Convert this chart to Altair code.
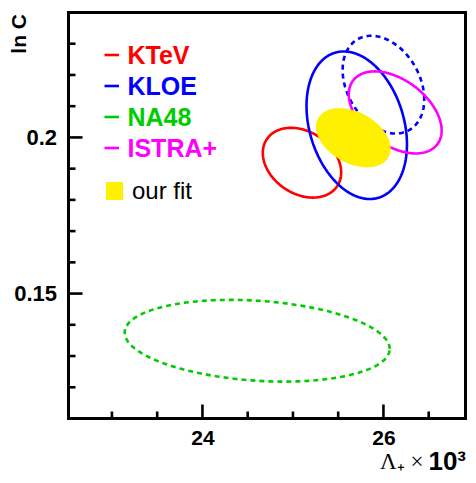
import altair as alt
import pandas as pd

# ---------------- data ----------------
# contour ellipses: centre, half-extent in x and y, correlation
ell_names = ["KTeV", "KLOE", "KLOE (dashed)", "NA48", "ISTRA+"]
ell_cx = [25.10, 25.705, 26.00, 24.605, 26.13]
ell_cy = [0.1919, 0.2039, 0.2169, 0.1349, 0.2080]
ell_sx = [0.433, 0.555, 0.451, 1.464, 0.513]
ell_sy = [0.01117, 0.02363, 0.01565, 0.01309, 0.01314]
ell_rho = [-0.28, -0.26, -0.30, -0.20, -0.44]
ell_style = ["solid", "solid", "dashed", "dashed", "solid"]
ell_colors = ["#ff0000", "#0000ff", "#0000ff", "#00cc00", "#ff00ff"]

fit_name = ["our fit"]
fit_cx = [25.667]
fit_cy = [0.1999]
fit_sx = [0.412]
fit_sy = [0.00948]
fit_rho = [-0.37]
fit_color = "#fff000"

legend_names = ["KTeV", "KLOE", "NA48", "ISTRA+"]
legend_colors = ["#ff0000", "#0000ff", "#00cc00", "#ff00ff"]

x_major = [24, 26]
x_minor = [23.0, 23.5, 24.5, 25.0, 25.5, 26.5]
y_major = [0.15, 0.2]
y_minor = [0.12, 0.13, 0.14, 0.16, 0.17, 0.18, 0.19, 0.21, 0.22, 0.23]

# ---------------- layout ----------------
W, H = 397, 406
FONT = "Liberation Sans"

xs = alt.Scale(domain=[22.52, 22.52 + W / 90.5], nice=False, zero=False)
ys = alt.Scale(domain=[0.11, 0.24], nice=False, zero=False)

TITLE_Y = 50.5

xaxis = alt.Axis(values=x_major, format="~g", ticks=False, tickSize=0, domain=False, grid=False,
                 labelFont=FONT, labelFontSize=21, labelFontWeight="bold", labelColor="black",
                 labelPadding=9, title="10³", titleFont=FONT, titleFontSize=26,
                 titleFontWeight="bold", titleColor="black", titleAlign="right",
                 titleBaseline="alphabetic", titleX=W, titleY=TITLE_Y)
yaxis = alt.Axis(values=y_major, format="~g", ticks=False, tickSize=0, domain=False, grid=False,
                 labelFont=FONT, labelFontSize=22, labelFontWeight="bold", labelColor="black",
                 labelPadding=12, title="ln C", titleFont=FONT, titleFontSize=21,
                 titleFontWeight="bold", titleColor="black", titleAngle=270, titleAlign="right",
                 titleBaseline="alphabetic", titleX=-43, titleY=1)

X = alt.X("x:Q", scale=xs, axis=xaxis)
Y = alt.Y("y:Q", scale=ys, axis=yaxis)

ell = pd.DataFrame({"name": ell_names, "cx": ell_cx, "cy": ell_cy, "sx": ell_sx,
                    "sy": ell_sy, "rho": ell_rho, "style": ell_style})
fit = pd.DataFrame({"name": fit_name, "cx": fit_cx, "cy": fit_cy, "sx": fit_sx,
                    "sy": fit_sy, "rho": fit_rho})

lines = alt.Chart(ell).transform_calculate(
    k="sequence(0, 145)"
).transform_flatten(["k"]).transform_calculate(
    t="datum.k * 2 * PI / 144"
).transform_calculate(
    x="datum.cx + datum.sx * cos(datum.t)",
    y="datum.cy + datum.sy * (datum.rho * cos(datum.t) + sqrt(1 - datum.rho * datum.rho) * sin(datum.t))",
).mark_line(strokeWidth=2.6).encode(
    x=X, y=Y,
    color=alt.Color("name:N", scale=alt.Scale(domain=ell_names, range=ell_colors), legend=None),
    strokeDash=alt.StrokeDash("style:N", scale=alt.Scale(domain=["solid", "dashed"], range=[[1, 0], [5, 4]]), legend=None),
    order=alt.Order("k:Q"),
)

area = alt.Chart(fit).transform_calculate(
    k="sequence(0, 121)"
).transform_flatten(["k"]).transform_calculate(
    u="cos(datum.k * PI / 120)"
).transform_calculate(
    x="datum.cx + datum.sx * datum.u",
    h="sqrt(1 - datum.rho * datum.rho) * sqrt(max(0, 1 - datum.u * datum.u))",
).transform_calculate(
    y="datum.cy + datum.sy * (datum.rho * datum.u + datum.h)",
    y2="datum.cy + datum.sy * (datum.rho * datum.u - datum.h)",
).mark_area(color=fit_color, opacity=1).encode(x=X, y=Y, y2="y2:Q")

def xticks(vals, length):
    return alt.Chart(pd.DataFrame({"x": vals})).mark_rule(color="black", strokeWidth=2.6).encode(
        x=X, y=alt.value(H), y2=alt.value(H - length))

def yticks(vals, length):
    return alt.Chart(pd.DataFrame({"y": vals})).mark_rule(color="black", strokeWidth=2.6).encode(
        y=Y, x=alt.value(0), x2=alt.value(length))

layers = [xticks(x_minor, 7), xticks(x_major, 14), yticks(y_minor, 7), yticks(y_major, 14), lines, area]

ROW = 31
for i, (nm, col) in enumerate(zip(legend_names, legend_colors)):
    base = alt.Chart(pd.DataFrame({"label": [nm]}))
    layers.append(base.mark_rule(color=col, strokeWidth=2.6).encode(
        x=alt.value(36), x2=alt.value(50.5), y=alt.value(42.5 + i * ROW)))
    layers.append(base.mark_text(color=col, font=FONT, fontSize=25, fontWeight="bold",
                                 align="left", baseline="alphabetic").encode(
        text="label:N", x=alt.value(59), y=alt.value(51 + i * ROW)))

fitleg = alt.Chart(pd.DataFrame({"label": fit_name}))
layers.append(fitleg.mark_rect(color=fit_color).encode(
    x=alt.value(37.5), x2=alt.value(54.5), y=alt.value(169.5), y2=alt.value(187.5)))
layers.append(fitleg.mark_text(color="black", font=FONT, fontSize=24, align="left",
                               baseline="alphabetic").encode(
    text="label:N", x=alt.value(63.5), y=alt.value(186.5)))

# serif Lambda part of the x-axis title
layers.append(alt.Chart(pd.DataFrame({"label": ["Λ₊ ×"]})).mark_text(
    color="black", font="Liberation Serif", fontSize=23, align="right", baseline="alphabetic").encode(
    text="label:N", x=alt.value(W - 42), y=alt.value(H + TITLE_Y)))

chart = alt.layer(*layers).properties(
    width=W, height=H,
    autosize=alt.AutoSizeParams(type="none"),
    padding={"left": 60.5, "top": 4.5, "right": 2, "bottom": 56.5},
    background="white",
).configure_view(stroke="black", strokeWidth=3)

chart.save("out.html", embed_options={"renderer": "svg", "actions": False})
